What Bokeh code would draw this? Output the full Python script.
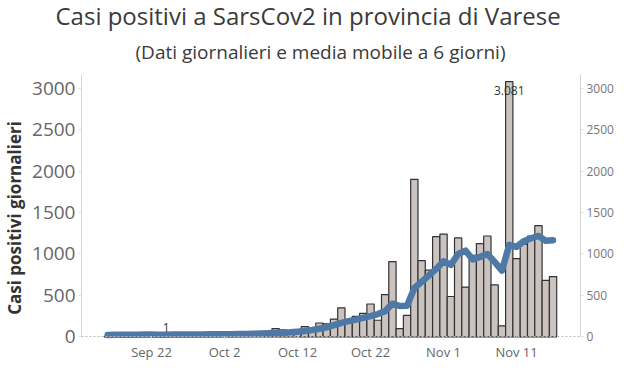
import datetime as dt
from bokeh.plotting import figure
from bokeh.models import ColumnDataSource, LinearAxis, FixedTicker, Title, Range1d
from bokeh.core.properties import value
from bokeh.embed import file_html
from bokeh.resources import INLINE

# ---------------- data ----------------
first_day = dt.datetime(2020, 9, 16)

daily_cases = [
    5, 8, 6, 10, 4, 9, 12, 7, 1, 14, 11, 6, 9, 15, 18,            # Sep 16-30
    12, 20, 17, 9, 22, 25, 30, 28,                                # Oct 1-8
    99, 83, 40, 55, 122, 110, 167, 156, 213, 350, 180, 247, 282,  # Oct 9-21
    396, 200, 510, 909, 99, 259, 1901, 920, 806, 1209,            # Oct 22-31
    1240, 487, 1194, 601, 985, 1126, 1217, 627, 133, 3081,        # Nov 1-10
    943, 1118, 1217, 1342, 681, 727,                              # Nov 11-16
]

moving_avg = [
    22, 24, 25, 26, 26, 27, 27, 26, 26, 27, 27, 28, 28, 29, 30,   # Sep 16-30
    30, 31, 32, 33, 35, 37, 40, 43,                               # Oct 1-8
    46, 50, 55, 62, 70, 82, 98, 115, 140, 168, 190, 208, 228,     # Oct 9-21
    250, 275, 310, 400, 372, 375, 590, 665, 740, 820,             # Oct 22-31
    912, 868, 1000, 1040, 935, 965, 1000, 905, 800, 1110,         # Nov 1-10
    1086, 1155, 1190, 1218, 1160, 1167,                           # Nov 11-16
]

dates = [first_day + dt.timedelta(days=i) for i in range(len(daily_cases))]

x_tick_dates = [dt.datetime(2020, 9, 22), dt.datetime(2020, 10, 2), dt.datetime(2020, 10, 12),
                dt.datetime(2020, 10, 22), dt.datetime(2020, 11, 1), dt.datetime(2020, 11, 11)]
x_tick_labels = ["Sep 22", "Oct 2", "Oct 12", "Oct 22", "Nov 1", "Nov 11"]
y_ticks = [0, 500, 1000, 1500, 2000, 2500, 3000]

title_text = "Casi positivi  a SarsCov2 in provincia di Varese"
subtitle_text = "(Dati giornalieri e media mobile  a 6 giorni)"
y_label = "Casi positivi giornalieri"

FONT = "Open Sans"
DAY_MS = 86400000
Y_TOP = 3167


def ms(d):
    return (d - dt.datetime(1970, 1, 1)).total_seconds() * 1000.0


# ---------------- figure ----------------
p = figure(
    width=616, height=361,
    x_axis_type="datetime",
    x_range=Range1d(dt.datetime(2020, 9, 12, 9, 50), dt.datetime(2020, 11, 19, 18, 14)),
    y_range=Range1d(-298, Y_TOP),
    output_backend="svg", toolbar_location=None,
    min_border_left=81, min_border_right=34, min_border_top=70, min_border_bottom=0,
)
p.outline_line_color = None
p.xgrid.visible = False
p.ygrid.visible = False
p.background_fill_color = "white"
p.border_fill_color = "white"

# titles: p.title is outermost (main), added Title sits next to the plot (subtitle)
p.title.text = title_text
p.title.text_font = FONT
p.title.text_font_size = "24px"
p.title.text_font_style = "normal"
p.title.text_color = "#3a3a3a"
p.title.align = "left"
p.title.offset = -26
p.title.standoff = -8
sub_title = Title(text=subtitle_text, text_font=FONT, text_font_size="19px",
                  text_font_style="normal", text_color="#3a3a3a", align="left",
                  offset=54, standoff=19)
p.add_layout(sub_title, "above")

src = ColumnDataSource(dict(date=dates, cases=daily_cases, avg=moving_avg))

p.vbar(x="date", top="cases", width=DAY_MS, bottom=0, source=src,
       fill_color="#cac3bf", line_color="#333333", line_width=1.2)
p.line(x="date", y="avg", source=src, line_color="#4e79a7", line_width=6.5,
       line_cap="round", line_join="round")

# min / max labels
i_max = daily_cases.index(max(daily_cases))
i_min = daily_cases.index(min(daily_cases))
fmt = lambda v: f"{v:,}".replace(",", ".")
lab_max = ColumnDataSource(dict(x=[dates[i_max]], y=[daily_cases[i_max]], t=[fmt(daily_cases[i_max])]))
lab_min = ColumnDataSource(dict(x=[dates[i_min]], y=[daily_cases[i_min]], t=[fmt(daily_cases[i_min])]))
p.text(x="x", y="y", text="t", source=lab_max, text_font=value(FONT), text_font_size="12px",
       text_color="#333333", text_align="center", text_baseline="top", y_offset=4)
p.text(x="x", y="y", text="t", source=lab_min, text_font=value(FONT), text_font_size="12px",
       text_color="#333333", text_align="center", text_baseline="bottom", y_offset=-5)

# left axis
yl = p.yaxis[0]
yl.ticker = FixedTicker(ticks=y_ticks)
yl.bounds = (0, Y_TOP)
yl.axis_label = y_label
yl.axis_label_text_font = FONT
yl.axis_label_text_font_size = "17px"
yl.axis_label_text_font_style = "bold"
yl.axis_label_text_color = "#333333"
yl.axis_label_standoff = 3
yl.major_label_text_font = FONT
yl.major_label_text_font_size = "19px"
yl.major_label_text_color = "#666666"
yl.major_label_standoff = 3
yl.axis_line_color = "#d4d4d4"
yl.major_tick_line_color = "#e0e0e0"
yl.major_tick_out = 3
yl.major_tick_in = 0
yl.minor_tick_line_color = None

# right axis
yr = LinearAxis(ticker=FixedTicker(ticks=y_ticks), bounds=(0, Y_TOP))
yr.major_label_text_font = FONT
yr.major_label_text_font_size = "12px"
yr.major_label_text_color = "#777777"
yr.major_label_standoff = 3
yr.axis_line_color = "#d4d4d4"
yr.major_tick_line_color = "#e0e0e0"
yr.major_tick_out = 3
yr.major_tick_in = 0
yr.minor_tick_line_color = None
p.add_layout(yr, "right")

# bottom axis, drawn at y = 0 inside the plot area
xa = p.xaxis[0]
xa.fixed_location = 0
tick_ms = [ms(d) for d in x_tick_dates]
xa.ticker = FixedTicker(ticks=tick_ms)
xa.major_label_overrides = {t: l for t, l in zip(tick_ms, x_tick_labels)}
xa.major_label_text_font = FONT
xa.major_label_text_font_size = "13px"
xa.major_label_text_color = "#666666"
xa.major_label_standoff = 3
xa.axis_line_color = "#bbbbbb"
xa.axis_line_dash = "2 2"
xa.major_tick_line_color = "#dddddd"
xa.major_tick_out = 3
xa.major_tick_in = 0
xa.minor_tick_line_color = None

open("out.html", "w").write(file_html(p, INLINE))
